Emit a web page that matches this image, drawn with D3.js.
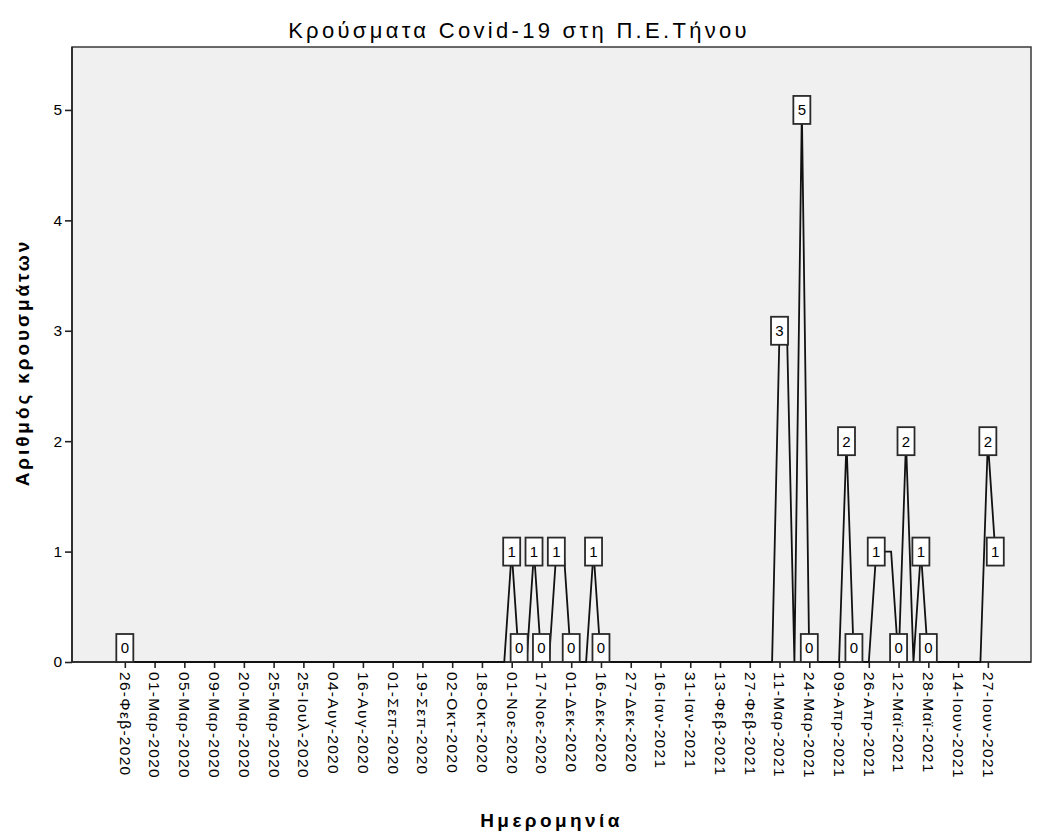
<!DOCTYPE html>
<html>
<head>
<meta charset="utf-8">
<script src="https://cdn.jsdelivr.net/npm/d3@7"></script>
<style>
  body { margin: 0; background: #fff; }
  text { font-family: "Liberation Sans", Arial, sans-serif; fill: #000; }
</style>
</head>
<body>
<svg id="chart" width="1038" height="834"></svg>
<script>
// Labels shown on the category axis (every 4th reporting day)
const tickLabels = [
  "26-Φεβ-2020", "01-Μαρ-2020", "05-Μαρ-2020", "09-Μαρ-2020", "20-Μαρ-2020",
  "25-Μαρ-2020", "25-Ιουλ-2020", "04-Αυγ-2020", "16-Αυγ-2020", "01-Σεπ-2020",
  "19-Σεπ-2020", "02-Οκτ-2020", "18-Οκτ-2020", "01-Νοε-2020", "17-Νοε-2020",
  "01-Δεκ-2020", "16-Δεκ-2020", "27-Δεκ-2020", "16-Ιαν-2021", "31-Ιαν-2021",
  "13-Φεβ-2021", "27-Φεβ-2021", "11-Μαρ-2021", "24-Μαρ-2021", "09-Απρ-2021",
  "26-Απρ-2021", "12-Μαϊ-2021", "28-Μαϊ-2021", "14-Ιουν-2021", "27-Ιουν-2021"
];
const labelStep = 4;

// Daily new cases, one entry per reporting day
const caseCounts = [
  0, 0, 0, 0, 0, 0, 0, 0, 0, 0,   //   0
  0, 0, 0, 0, 0, 0, 0, 0, 0, 0,   //  10
  0, 0, 0, 0, 0, 0, 0, 0, 0, 0,   //  20
  0, 0, 0, 0, 0, 0, 0, 0, 0, 0,   //  30
  0, 0, 0, 0, 0, 0, 0, 0, 0, 0,   //  40
  0, 0, 1, 0, 0, 1, 0, 0, 1, 1,   //  50
  0, 0, 0, 1, 0, 0, 0, 0, 0, 0,   //  60
  0, 0, 0, 0, 0, 0, 0, 0, 0, 0,   //  70
  0, 0, 0, 0, 0, 0, 0, 0, 3, 3,   //  80
  0, 5, 0, 0, 0, 0, 0, 2, 0, 0,   //  90
  0, 1, 1, 1, 0, 2, 0, 1, 0, 0,   // 100
  0, 0, 0, 0, 0, 0, 2, 1          // 110
];

// Days whose value is written in a box on the chart
const labelledDays = [0, 52, 53, 55, 56, 58, 60, 63, 64, 88, 91, 92, 97, 98, 101, 104, 105, 107, 108, 116, 117];

const yTicks = [0, 1, 2, 3, 4, 5];

const chartTitle = "Κρούσματα Covid-19 στη Π.Ε.Τήνου";
const xTitle = "Ημερομηνία";
const yTitle = "Αριθμός κρουσμάτων";

// ---- layout ----
const W = 1038, H = 834;
const plot = { left: 72, top: 47, right: 1031, bottom: 662 };
const pw = plot.right - plot.left, ph = plot.bottom - plot.top;
const font = "\"Liberation Sans\", Arial, sans-serif";

const svg = d3.select("#chart");

const x = d3.scaleLinear().domain([-7.1, 121.8]).range([plot.left, plot.right]);
const y = d3.scaleLinear().domain([0, 5.57]).range([plot.bottom, plot.top]);

// plot background and frame
svg.append("rect")
  .attr("x", plot.left).attr("y", plot.top)
  .attr("width", pw).attr("height", ph)
  .attr("fill", "#f0f0f0")
  .attr("stroke", "#3a3a3a").attr("stroke-width", 1.5);

// x axis: ticks only at labelled days
const tickDays = tickLabels.map((_, i) => i * labelStep);
const xAxis = d3.axisBottom(x)
  .tickValues(tickDays)
  .tickFormat((d, i) => tickLabels[i])
  .tickSizeInner(6).tickSizeOuter(0).tickPadding(4);

const gx = svg.append("g")
  .attr("transform", `translate(0,${plot.bottom})`)
  .call(xAxis);
gx.select(".domain").attr("stroke", "#222").attr("stroke-width", 1.6)
  .attr("d", `M${plot.left},0H${plot.right}`);
gx.selectAll(".tick line").attr("stroke", "#222").attr("stroke-width", 1.6);
gx.selectAll(".tick text")
  .attr("transform", "rotate(90)")
  .attr("x", 10).attr("y", 0).attr("dy", "0.36em")
  .attr("text-anchor", "start")
  .attr("fill", "#111")
  .style("font-size", "15.5px")
  .style("letter-spacing", "1.3px")
  .style("-webkit-text-stroke", "0.25px #111")
  .style("font-family", font);

// y axis
const yAxis = d3.axisLeft(y).tickValues(yTicks).tickFormat(d3.format("d"))
  .tickSizeInner(7).tickSizeOuter(0).tickPadding(3);
const gy = svg.append("g")
  .attr("transform", `translate(${plot.left},0)`)
  .call(yAxis);
gy.select(".domain").attr("stroke", "#222").attr("stroke-width", 1.6)
  .attr("d", `M0,${plot.top}V${plot.bottom}`);
gy.selectAll(".tick line").attr("stroke", "#222").attr("stroke-width", 1.6);
gy.selectAll(".tick text")
  .attr("fill", "#111")
  .style("font-size", "15.5px")
  .style("-webkit-text-stroke", "0.25px #111")
  .style("font-family", font);

// case line
const line = d3.line()
  .x((d, i) => x(i))
  .y(d => y(d));
svg.append("path")
  .datum(caseCounts)
  .attr("fill", "none")
  .attr("stroke", "#111")
  .attr("stroke-width", 1.8)
  .attr("stroke-linejoin", "miter")
  .attr("d", line);

// value boxes, kept inside the plot area
const boxW = 17, boxH = 28;
const labels = svg.append("g").selectAll("g")
  .data(labelledDays)
  .join("g")
  .attr("transform", d => {
    const cx = x(d);
    let cy = y(caseCounts[d]);
    cy = Math.min(cy, plot.bottom - boxH / 2);
    cy = Math.max(cy, plot.top + boxH / 2);
    return `translate(${cx},${cy})`;
  });
labels.append("rect")
  .attr("x", -boxW / 2).attr("y", -boxH / 2)
  .attr("width", boxW).attr("height", boxH)
  .attr("fill", "#fff")
  .attr("stroke", "#2a2a2a").attr("stroke-width", 1.8);
labels.append("text")
  .attr("text-anchor", "middle")
  .attr("dy", "0.36em")
  .attr("fill", "#111")
  .style("font-size", "15px")
  .style("-webkit-text-stroke", "0.2px #111")
  .text(d => caseCounts[d]);

// titles
svg.append("text")
  .attr("x", W / 2).attr("y", 38)
  .attr("text-anchor", "middle")
  .style("font-size", "22px")
  .style("letter-spacing", "3.3px")
  .style("-webkit-text-stroke", "0.55px #000")
  .text(chartTitle);

svg.append("text")
  .attr("x", (plot.left + plot.right) / 2).attr("y", 827)
  .attr("text-anchor", "middle")
  .style("font-size", "19px")
  .style("font-weight", "bold")
  .style("letter-spacing", "3.4px")
  .text(xTitle);

svg.append("text")
  .attr("transform", `translate(29,${(plot.top + plot.bottom) / 2 + 8}) rotate(-90)`)
  .attr("text-anchor", "middle")
  .style("font-size", "19px")
  .style("font-weight", "bold")
  .style("letter-spacing", "2.9px")
  .text(yTitle);
</script>
</body>
</html>
